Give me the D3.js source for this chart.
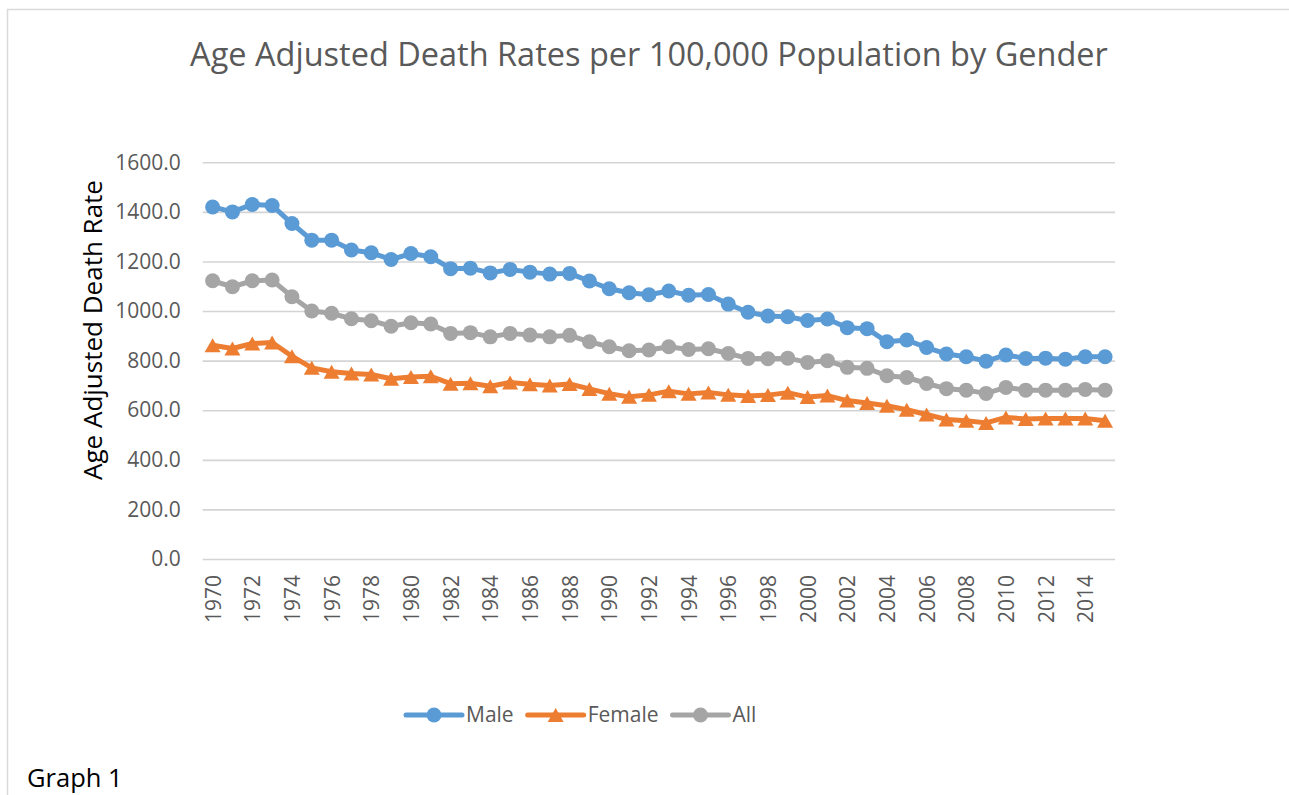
<!DOCTYPE html>
<html>
<head>
<meta charset="utf-8">
<script src="https://cdn.jsdelivr.net/npm/d3@7"></script>
<style>
  body { margin: 0; background: #fff; }
  svg text { font-family: "Open Sans", sans-serif; }
</style>
</head>
<body>
<svg id="chart" width="1289" height="795"></svg>
<script>
// categories
const years = [1970, 1971, 1972, 1973, 1974, 1975, 1976, 1977, 1978, 1979,
  1980, 1981, 1982, 1983, 1984, 1985, 1986, 1987, 1988, 1989,
  1990, 1991, 1992, 1993, 1994, 1995, 1996, 1997, 1998, 1999,
  2000, 2001, 2002, 2003, 2004, 2005, 2006, 2007, 2008, 2009,
  2010, 2011, 2012, 2013, 2014, 2015]

// series values
const male = [1420, 1400, 1430, 1426, 1353, 1286, 1286, 1246, 1235, 1208,
  1232, 1219, 1171, 1173, 1154, 1168, 1157, 1149, 1152, 1121,
  1090, 1074, 1066, 1081, 1064, 1067, 1028, 995, 980, 977,
  962, 968, 933, 929, 876, 883, 853, 827, 816, 798,
  823, 809, 810, 806, 816, 816]
const female = [862, 849, 869, 873, 818, 771, 755, 748, 744, 727,
  734, 737, 707, 709, 697, 712, 705, 700, 706, 686,
  667, 654, 662, 677, 666, 672, 662, 657, 661, 671,
  653, 659, 639, 629, 618, 602, 583, 563, 558, 549,
  571, 565, 567, 567, 567, 558]
const all = [1122, 1098, 1122, 1125, 1058, 1000, 991, 969, 961, 939,
  953, 948, 910, 913, 896, 910, 903, 896, 902, 876,
  856, 840, 843, 856, 845, 848, 829, 809, 808, 810,
  793, 800, 773, 769, 739, 732, 708, 687, 681, 668,
  692, 681, 681, 681, 684, 681]

// tick labels
const xTickYears = [1970, 1972, 1974, 1976, 1978, 1980, 1982, 1984, 1986, 1988,
  1990, 1992, 1994, 1996, 1998, 2000, 2002, 2004, 2006, 2008,
  2010, 2012, 2014]
const yTicks = [0, 200, 400, 600, 800, 1000, 1200, 1400, 1600]

const seriesNames = ['Male', 'Female', 'All']
const seriesValues = [male, female, all]
const seriesColors = ['#5b9bd5', '#ed7d31', '#a5a5a5']
const seriesMarkers = ['circle', 'triangle', 'circle']

const svg = d3.select('#chart')

// outer chart border (runs off the right and bottom of the picture)
svg.append('rect')
  .attr('x', 7.5).attr('y', 9.5)
  .attr('width', 1290).attr('height', 800)
  .attr('fill', '#fff')
  .attr('stroke', '#d9d9d9')
  .attr('stroke-width', 1.5)

const plot = { left: 202.7, right: 1115, top: 162.3, bottom: 559 }

const x = d3.scalePoint()
  .domain(years)
  .range([plot.left, plot.right])
  .padding(0.5)

const y = d3.scaleLinear()
  .domain([0, 1600])
  .range([plot.bottom, plot.top])

// gridlines
const grid = svg.append('g')
  .attr('transform', 'translate(' + plot.left + ',0)')
  .call(d3.axisLeft(y).tickValues(yTicks).tickSize(-(plot.right - plot.left)).tickFormat(''))
grid.select('.domain').remove()
grid.selectAll('line').attr('stroke', '#d4d4d4').attr('stroke-width', 1.6)

// y axis labels
const yAxis = svg.append('g')
  .attr('transform', 'translate(' + plot.left + ',0)')
  .call(d3.axisLeft(y).tickValues(yTicks).tickSize(0).tickPadding(22).tickFormat(d3.format('.1f')))
yAxis.select('.domain').remove()
yAxis.selectAll('text')
  .attr('fill', '#595959')
  .style('font-size', '21px')
  .style('font-family', '"Open Sans", sans-serif')

// x axis labels, rotated
const xAxis = svg.append('g')
  .attr('transform', 'translate(0,' + plot.bottom + ')')
  .call(d3.axisBottom(x).tickValues(xTickYears).tickSize(0))
xAxis.select('.domain').remove()
xAxis.selectAll('text')
  .attr('fill', '#595959')
  .style('font-size', '21px')
  .style('font-family', '"Open Sans", sans-serif')
  .attr('text-anchor', 'end')
  .attr('transform', 'translate(0,16) rotate(-90)')
  .attr('x', 0).attr('y', 0)
  .attr('dy', '0.36em')

// marker shapes
function triangle(w, h) {
  return 'M0,' + (-h / 2) + 'L' + (w / 2) + ',' + (h / 2) + 'L' + (-w / 2) + ',' + (h / 2) + 'Z'
}

const line = d3.line()
  .x(function (d) { return x(d.year) })
  .y(function (d) { return y(d.value) })

seriesNames.forEach(function (name, i) {
  const pts = years.map(function (yr, j) { return { year: yr, value: seriesValues[i][j] } })
  const g = svg.append('g')
  g.append('path')
    .datum(pts)
    .attr('d', line)
    .attr('fill', 'none')
    .attr('stroke', seriesColors[i])
    .attr('stroke-width', 5)
    .attr('stroke-linejoin', 'round')
    .attr('stroke-linecap', 'round')
  if (seriesMarkers[i] == 'circle') {
    g.selectAll('circle')
      .data(pts)
      .enter()
      .append('circle')
      .attr('cx', function (d) { return x(d.year) })
      .attr('cy', function (d) { return y(d.value) })
      .attr('r', 7.5)
      .attr('fill', seriesColors[i])
  } else {
    g.selectAll('path.mk')
      .data(pts)
      .enter()
      .append('path')
      .attr('class', 'mk')
      .attr('d', triangle(16, 14))
      .attr('transform', function (d) { return 'translate(' + x(d.year) + ',' + y(d.value) + ')' })
      .attr('fill', seriesColors[i])
  }
})

// title
svg.append('text')
  .attr('x', 649)
  .attr('y', 66)
  .attr('text-anchor', 'middle')
  .attr('fill', '#595959')
  .style('font-size', '32.5px')
  .text('Age Adjusted Death Rates per 100,000 Population by Gender')

// y axis title
svg.append('text')
  .attr('transform', 'translate(102,330) rotate(-90)')
  .attr('text-anchor', 'middle')
  .attr('fill', '#000')
  .style('font-size', '26px')
  .text('Age Adjusted Death Rate')

// legend
const legend = svg.append('g').attr('transform', 'translate(406,715)')
let lx = 0
seriesNames.forEach(function (name, i) {
  const item = legend.append('g').attr('transform', 'translate(' + lx + ',0)')
  item.append('line')
    .attr('x1', 0).attr('x2', 56)
    .attr('y1', 0).attr('y2', 0)
    .attr('stroke', seriesColors[i])
    .attr('stroke-width', 5)
    .attr('stroke-linecap', 'round')
  if (seriesMarkers[i] == 'circle') {
    item.append('circle').attr('cx', 28).attr('cy', 0).attr('r', 7.5).attr('fill', seriesColors[i])
  } else {
    item.append('path').attr('d', triangle(16, 14)).attr('transform', 'translate(28,0)').attr('fill', seriesColors[i])
  }
  const t = item.append('text')
    .attr('x', 60)
    .attr('dy', '0.35em')
    .attr('fill', '#595959')
    .style('font-size', '21px')
    .text(name)
  lx += 60 + t.node().getComputedTextLength() + 14
})

// caption below the chart
svg.append('text')
  .attr('x', 27)
  .attr('y', 787)
  .attr('fill', '#000')
  .style('font-size', '25.5px')
  .text('Graph 1')
</script>
</body>
</html>
